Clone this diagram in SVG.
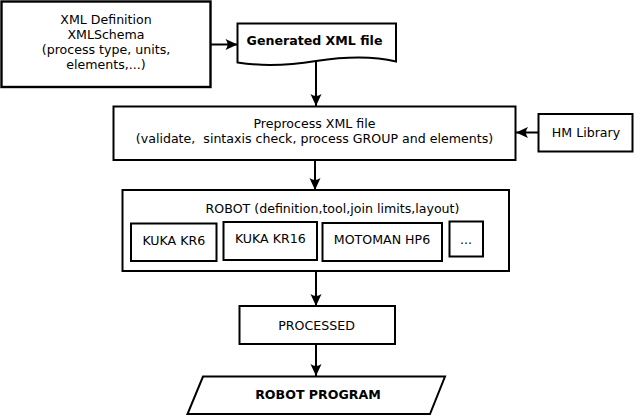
<svg xmlns="http://www.w3.org/2000/svg" width="636" height="416" viewBox="0 0 636 416">
<style>
  .box { fill: #ffffff; stroke: #000000; stroke-width: 2; }
  .t { font-family: "DejaVu Sans", Verdana, sans-serif; font-size: 12.6px; fill: #000000; text-anchor: middle; white-space: pre; }
  .b { font-weight: bold; }
  .conn { fill: none; stroke: #000000; stroke-width: 2; marker-end: url(#ah); }
</style>
<defs>
  <marker id="ah" markerUnits="userSpaceOnUse" markerWidth="14" markerHeight="14" viewBox="0 0 14 14" refX="13" refY="7" orient="auto">
    <path d="M13,7 L1,1.5 Q5,7 1,12.5 Z" fill="#000000"/>
  </marker>
</defs>
<rect width="636" height="416" fill="#ffffff"/>

<g id="connectors">
  <line class="conn" x1="211" y1="44.5" x2="237.5" y2="44.5"/>
  <line class="conn" x1="316" y1="61" x2="316" y2="106"/>
  <line class="conn" x1="538" y1="132.5" x2="516" y2="132.5"/>
  <line class="conn" x1="315" y1="160" x2="315" y2="190"/>
  <line class="conn" x1="316" y1="271" x2="316" y2="306"/>
  <line class="conn" x1="316" y1="344" x2="316" y2="376"/>
</g>

<g id="xml-definition">
  <rect class="box" x="1.5" y="1.5" width="209" height="85.5" style="stroke-width:2.4"/>
  <text class="t" x="106" y="24">XML Definition</text>
  <text class="t" x="106" y="39.3">XMLSchema</text>
  <text class="t" x="106" y="54">(process type, units,</text>
  <text class="t" x="106" y="68.5">elements,...)</text>
</g>

<g id="generated-xml">
  <path class="box" d="M237.5,23.5 L396,23.5 L396,61.5 C375,56.5 350,56 316,61 C285,66 260,66 237.5,62.5 Z"/>
  <text class="t b" x="314.5" y="44.5">Generated XML file</text>
</g>

<g id="preprocess">
  <rect class="box" x="113.5" y="106.5" width="402" height="53.5"/>
  <text class="t" x="314.5" y="128.3">Preprocess XML file</text>
  <text class="t" x="314.5" y="143.3">(validate,  sintaxis check, process GROUP and elements)</text>
</g>

<g id="hm-library">
  <rect class="box" x="538.5" y="114" width="94" height="37.5"/>
  <text class="t" x="586" y="136.7">HM Library</text>
</g>

<g id="robot">
  <rect class="box" x="122.5" y="190" width="386.5" height="81"/>
  <text class="t" x="332.5" y="212.7">ROBOT (definition,tool,join limits,layout)</text>
</g>

<g id="kuka-kr6">
  <rect class="box" x="131" y="223.5" width="85.5" height="37.5"/>
  <text class="t" x="173.8" y="245">KUKA KR6</text>
</g>

<g id="kuka-kr16">
  <rect class="box" x="223.5" y="222" width="93.5" height="38"/>
  <text class="t" x="270.3" y="243.3">KUKA KR16</text>
</g>

<g id="motoman-hp6">
  <rect class="box" x="322.5" y="223" width="119.5" height="38"/>
  <text class="t" x="382" y="244.3">MOTOMAN HP6</text>
</g>

<g id="more">
  <rect class="box" x="449.5" y="221.5" width="33.5" height="35"/>
  <text class="t" x="466" y="244.3">...</text>
</g>

<g id="processed">
  <rect class="box" x="239.5" y="306" width="155.5" height="38"/>
  <text class="t" x="316.5" y="330">PROCESSED</text>
</g>

<g id="robot-program">
  <path class="box" d="M203,376.5 L445,376.5 L430,414 L187.5,414 Z"/>
  <text class="t b" x="318" y="399">ROBOT PROGRAM</text>
</g>
</svg>
